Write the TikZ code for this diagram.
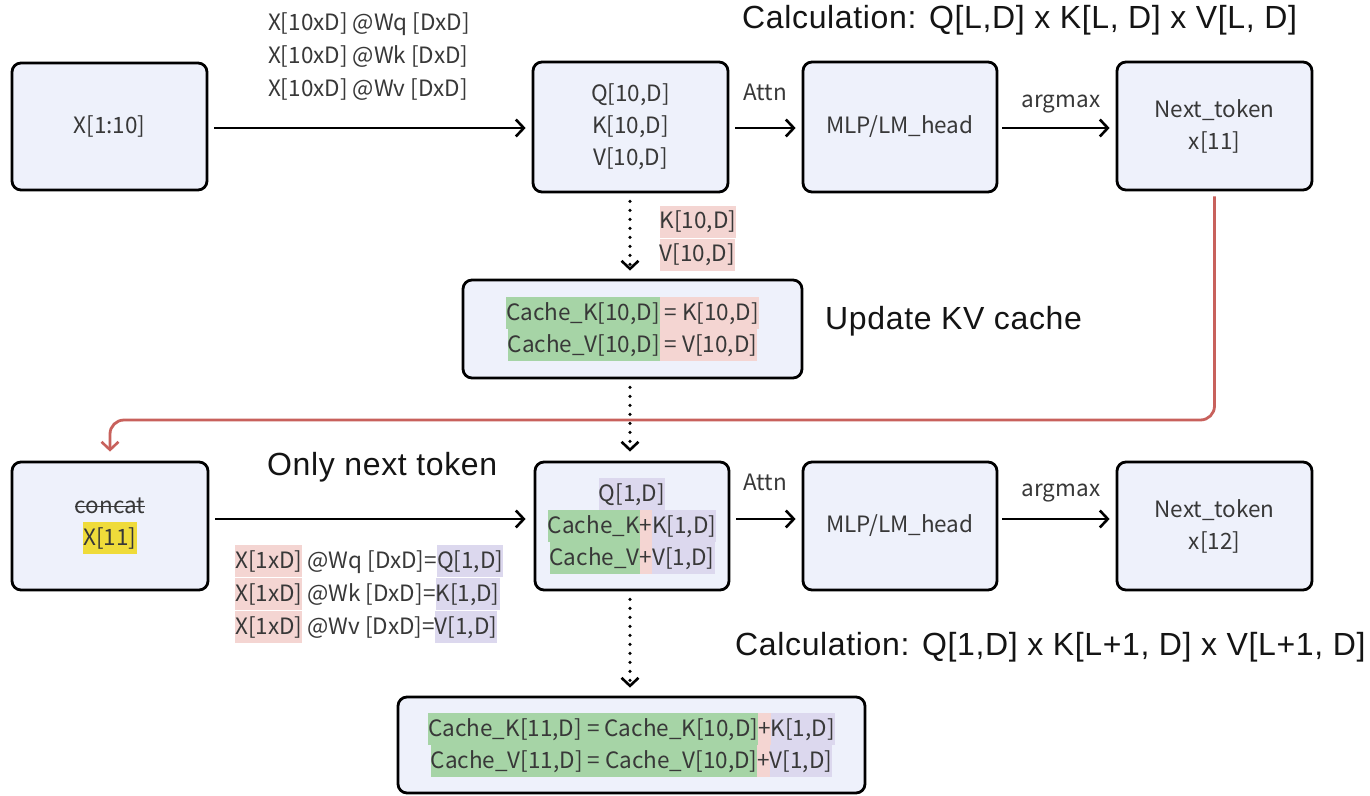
\documentclass[tikz,border=0pt]{standalone}
\usepackage{fontspec}
\usetikzlibrary{arrows.meta}
\newfontfamily\lblfont{Noto Sans CJK SC}
\newfontfamily\capfont[LetterSpace=2]{Liberation Sans}
\definecolor{boxfill}{HTML}{EEF1FB}
\definecolor{hlgreen}{HTML}{A6D4A6}
\definecolor{hlpink}{HTML}{F4D5D2}
\definecolor{hlpurple}{HTML}{DCD8EE}
\definecolor{hlyellow}{HTML}{EFDB3A}
\definecolor{redline}{HTML}{C8615C}
\definecolor{txt}{HTML}{383838}
% highlighted run of text, one full line tall
\newcommand{\hlbox}[2]{{\setlength{\fboxsep}{0pt}\colorbox{#1}{\rule[-9pt]{0pt}{32pt}#2}}}
% struck-through word
\newsavebox\strikebox
\newcommand{\strike}[1]{\sbox\strikebox{#1}\rlap{\rule[6pt]{\wd\strikebox}{1.4pt}}\usebox\strikebox}
\tikzset{
  blk/.style={draw=black, line width=2.8pt, rounded corners=9pt, fill=boxfill,
    align=center, text=txt, inner sep=0pt, font=\lblfont\fontsize{22.5}{32}\selectfont},
  lbl/.style={text=txt, inner sep=0pt, font=\lblfont\fontsize{22.5}{33}\selectfont},
  bigtxt/.style={text=black!92, inner sep=0pt, font=\capfont\fontsize{32}{38}\selectfont},
  arr/.style={-{Straight Barb[length=8pt,width=17pt,line width=2.6pt]}, line width=2.6pt},
  dotarr/.style={arr, line cap=round, dash pattern=on 0pt off 9pt, line width=3.6pt},
  redarr/.style={-{Straight Barb[length=8pt,width=17pt,line width=2.6pt]}, line width=2.8pt,
    draw=redline, rounded corners=14pt}
}
\begin{document}
\begin{tikzpicture}[x=1pt,y=-1pt]
\useasboundingbox[fill=white] (0,0) rectangle (1370,795);

% prefill step
\node[blk, minimum width=195pt, minimum height=127pt] (A) at (109.5,126.5) {X[1:10]};
\node[blk, minimum width=195pt, minimum height=130pt] (B) at (630.5,127) {Q[10,D]\\K[10,D]\\V[10,D]};
\node[blk, minimum width=194pt, minimum height=130pt] (C) at (900,127) {MLP/LM\_head};
\node[blk, minimum width=195pt, minimum height=128pt] (D) at (1214.5,126) {Next\_token\\x[11]};
\node[blk, minimum width=339pt, minimum height=98pt] (K1) at (632.5,329)
  {\hlbox{hlgreen}{Cache\_K[10,D]}\hlbox{hlpink}{ = K[10,D]}\\
   \hlbox{hlgreen}{Cache\_V[10,D]}\hlbox{hlpink}{ = V[10,D]}};

% decode step
\node[blk, minimum width=196pt, minimum height=128pt] (E) at (110,526)
  {\strike{concat}\\\hlbox{hlyellow}{X[11]}};
\node[blk, minimum width=194pt, minimum height=128pt] (F) at (632,526)
  {\hlbox{hlpurple}{Q[1,D]}\\
   \hlbox{hlgreen}{Cache\_K}\hlbox{hlpink}{+}\hlbox{hlpurple}{K[1,D]}\\
   \hlbox{hlgreen}{Cache\_V}\hlbox{hlpink}{+}\hlbox{hlpurple}{V[1,D]}};
\node[blk, minimum width=194pt, minimum height=128pt] (G) at (900,526) {MLP/LM\_head};
\node[blk, minimum width=195pt, minimum height=128pt] (H) at (1214.5,526) {Next\_token\\x[12]};
\node[blk, minimum width=467pt, minimum height=96pt] (K2) at (631.5,745)
  {\hlbox{hlgreen}{Cache\_K[11,D] = Cache\_K[10,D]}\hlbox{hlpink}{+}\hlbox{hlpurple}{K[1,D]}\\
   \hlbox{hlgreen}{Cache\_V[11,D] = Cache\_V[10,D]}\hlbox{hlpink}{+}\hlbox{hlpurple}{V[1,D]}};

% connectors, prefill
\draw[arr, shorten <=6pt, shorten >=6pt] (A.east |- 0,128) -- (B.west |- 0,128);
\draw[arr, shorten <=6pt, shorten >=6pt] (B.east |- 0,128) -- (C.west |- 0,128);
\draw[arr, shorten <=4pt, shorten >=6pt] (C.east |- 0,128) -- (D.west |- 0,128);
\draw[dotarr, shorten <=8pt, shorten >=8pt] (B.south -| 630,0) -- (K1.north -| 630,0);
\draw[dotarr, shorten <=8pt, shorten >=9pt] (K1.south -| 630,0) -- (F.north -| 630,0);

% connectors, decode
\draw[arr, shorten <=6pt, shorten >=8pt] (E.east |- 0,519) -- (F.west |- 0,519);
\draw[arr, shorten <=6pt, shorten >=6pt] (F.east |- 0,519) -- (G.west |- 0,519);
\draw[arr, shorten <=4pt, shorten >=6pt] (G.east |- 0,519) -- (H.west |- 0,519);
\draw[dotarr, shorten <=8pt, shorten >=8pt] (F.south -| 630,0) -- (K2.north -| 630,0);

% next token fed back
\coordinate (turn) at (0,420);
\draw[redarr, shorten <=5pt, shorten >=9pt] (D.south) -- (D.south |- turn) -- (E.north |- turn) -- (E.north);

% labels
\node[lbl, align=left] (wqkv) at (369,57) {X[10xD] @Wq [DxD]\\X[10xD] @Wk [DxD]\\X[10xD] @Wv [DxD]};
\node[lbl] (attn1) at (765,92) {Attn};
\node[lbl] (argm1) at (1061,104) {argmax};
\node[lbl, align=left] (kv10) at (698,238) {\hlbox{hlpink}{K[10,D]}\\\hlbox{hlpink}{V[10,D]}};
\node[lbl] (attn2) at (765,482) {Attn};
\node[lbl] (argm2) at (1061,493) {argmax};
\node[lbl, align=left, anchor=west] (wqkv1) at (235,594)
  {\hlbox{hlpink}{X[1xD]} @Wq [DxD]=\hlbox{hlpurple}{Q[1,D]}\\
   \hlbox{hlpink}{X[1xD]} @Wk [DxD]=\hlbox{hlpurple}{K[1,D]}\\
   \hlbox{hlpink}{X[1xD]} @Wv [DxD]=\hlbox{hlpurple}{V[1,D]}};

\node[bigtxt, anchor=west] (calc1) at (742,20) {Calculation: Q[L,D] x K[L, D] x V[L, D]};
\node[bigtxt, anchor=west] (upd) at (825,321) {Update KV cache};
\node[bigtxt, anchor=west] (only) at (267,467) {Only next token};
\node[bigtxt, anchor=west] (calc2) at (735,647) {Calculation: Q[1,D] x K[L+1, D] x V[L+1, D]};
\end{tikzpicture}
\end{document}
